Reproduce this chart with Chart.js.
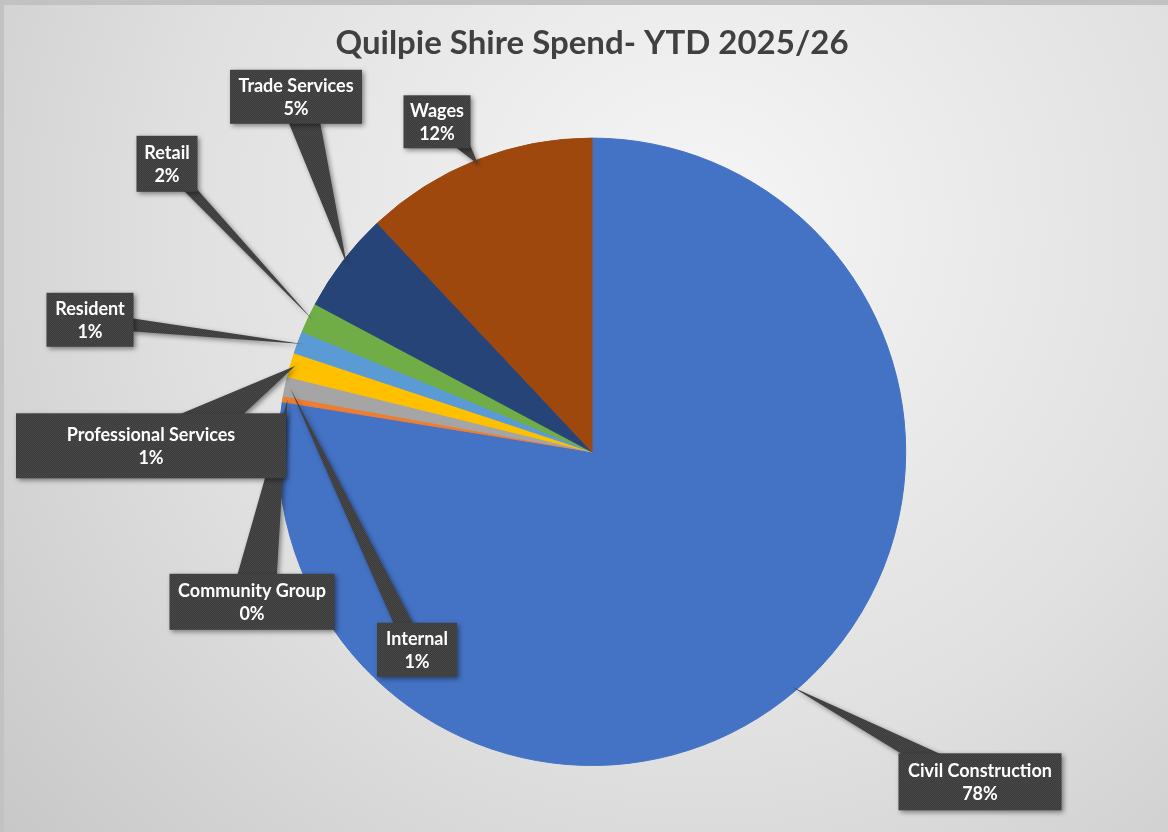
<!DOCTYPE html>
<html>
<head>
<meta charset="utf-8">
<script src="https://cdn.jsdelivr.net/npm/chart.js@4.4.1/dist/chart.umd.min.js"></script>
<style>
  html, body { margin: 0; padding: 0; background: #c4c4c4; }
  #wrap { width: 1168px; height: 832px; }
</style>
</head>
<body>
<div id="wrap"><canvas id="spend" width="1168" height="832"></canvas></div>
<script>
// data (share of spend, %)
const categories = ['Civil Construction', 'Community Group', 'Internal', 'Professional Services',
                    'Resident', 'Retail', 'Trade Services', 'Wages'];
const spendShare = [77.55, 0.3, 1.0, 1.25, 1.15, 1.55, 5.2, 12.0];
const sliceColors = ['#4472C4', '#ED7D31', '#A5A5A5', '#FFC000', '#5B9BD5', '#70AD47', '#264478', '#9E480E'];

// where each callout box sits, relative to the pie centre: [dx, dy, width, height]
const calloutBoxes = [
    [388, 330, 163, 57],
    [-340, 150, 165, 56],
    [-175, 198, 80, 54],
    [-441, -6, 270, 65],
    [-502, -132, 87, 54],
    [-425, -288, 61, 56],
    [-296, -355, 132, 54],
    [-155, -330, 67, 53]
];

const total = spendShare.reduce((a, b) => a + b, 0);

// gradient background like the Excel chart area
const backdrop = {
    id: 'backdrop',
    beforeDraw(chart) {
        const ctx = chart.ctx;
        ctx.save();
        ctx.fillStyle = '#c2c2c2';
        ctx.fillRect(0, 0, chart.width, chart.height);
        const g = ctx.createRadialGradient(700, 230, 0, 700, 230, 950);
        g.addColorStop(0, '#f6f6f6');
        g.addColorStop(0.55, '#e0e0e0');
        g.addColorStop(1, '#c6c6c6');
        ctx.fillStyle = g;
        ctx.fillRect(4, 5, chart.width - 4, chart.height - 5);
        ctx.restore();
    }
};

let boxPattern = null;
function getPattern(ctx) {
    if (boxPattern) return boxPattern;
    const c = document.createElement('canvas');
    c.width = 2; c.height = 2;
    const p = c.getContext('2d');
    p.fillStyle = '#3c3c3c'; p.fillRect(0, 0, 2, 2);
    p.fillStyle = '#474747'; p.fillRect(0, 0, 1, 1); p.fillRect(1, 1, 1, 1);
    boxPattern = ctx.createPattern(c, 'repeat');
    return boxPattern;
}

const callouts = {
    id: 'callouts',
    afterDatasetsDraw(chart) {
        const ctx = chart.ctx;
        const arcs = chart.getDatasetMeta(0).data;
        ctx.save();
        arcs.forEach((arc, i) => {
            const p = arc.getProps(['x', 'y', 'startAngle', 'endAngle', 'outerRadius'], true);
            const mid = (p.startAngle + p.endAngle) / 2;
            const tip = {
                x: p.x + Math.cos(mid) * p.outerRadius * 0.985,
                y: p.y + Math.sin(mid) * p.outerRadius * 0.985
            };
            const [bdx, bdy, w, h] = calloutBoxes[i];
            const cx = p.x + bdx, cy = p.y + bdy;
            const x0 = cx - w / 2, y0 = cy - h / 2;
            const dx = tip.x - cx, dy = tip.y - cy;
            const tx = dx !== 0 ? (w / 2) / Math.abs(dx) : Infinity;
            const ty = dy !== 0 ? (h / 2) / Math.abs(dy) : Infinity;
            let b1, b2;
            if (ty <= tx) {
                const half = w * 0.12;
                let ex = cx + dx * ty;
                ex = Math.min(Math.max(ex, x0 + half), x0 + w - half);
                const ey = cy + Math.sign(dy) * (h / 2 - 2);
                b1 = [ex - half, ey]; b2 = [ex + half, ey];
            } else {
                const half = h * 0.12;
                let ey = cy + dy * tx;
                ey = Math.min(Math.max(ey, y0 + half), y0 + h - half);
                const ex = cx + Math.sign(dx) * (w / 2 - 2);
                b1 = [ex, ey - half]; b2 = [ex, ey + half];
            }
            ctx.shadowColor = 'rgba(0,0,0,0.45)';
            ctx.shadowBlur = 5;
            ctx.shadowOffsetX = 2;
            ctx.shadowOffsetY = 2;
            ctx.fillStyle = getPattern(ctx);
            ctx.beginPath();
            ctx.moveTo(b1[0], b1[1]);
            ctx.lineTo(tip.x, tip.y);
            ctx.lineTo(b2[0], b2[1]);
            ctx.closePath();
            ctx.fill();
            ctx.fillRect(x0, y0, w, h);

            ctx.shadowColor = 'transparent';
            ctx.fillStyle = '#ffffff';
            ctx.font = 'bold 18px Lato';
            ctx.textAlign = 'center';
            ctx.textBaseline = 'middle';
            const pct = Math.round(spendShare[i] / total * 100) + '%';
            ctx.fillText(categories[i], cx, cy - 11);
            ctx.fillText(pct, cx, cy + 12);
        });
        ctx.restore();
    }
};

new Chart(document.getElementById('spend'), {
    type: 'pie',
    data: {
        labels: categories,
        datasets: [{
            data: spendShare,
            backgroundColor: sliceColors,
            borderColor: sliceColors,
            borderWidth: 1
        }]
    },
    options: {
        responsive: false,
        animation: false,
        layout: { padding: { top: 0, bottom: 66, left: 16, right: 0 } },
        plugins: {
            legend: { display: false },
            tooltip: { enabled: false },
            title: {
                display: true,
                text: 'Quilpie Shire Spend- YTD 2025/26',
                color: '#404040',
                font: { family: 'Lato', size: 33, weight: 'bold' },
                padding: { top: 24, bottom: 74 }
            }
        }
    },
    plugins: [backdrop, callouts]
});
</script>
</body>
</html>
